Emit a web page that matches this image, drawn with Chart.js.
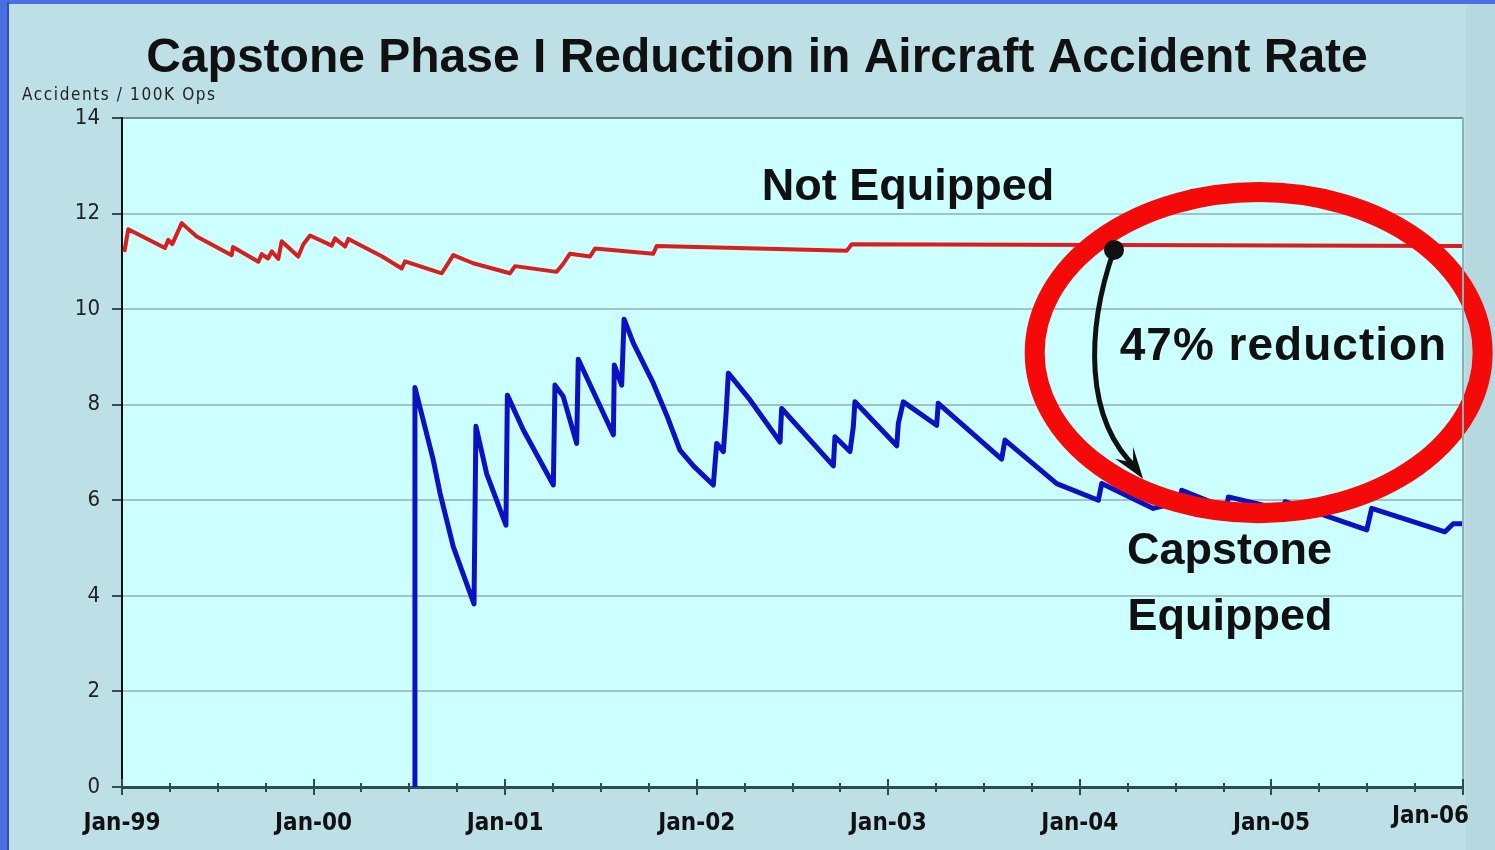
<!DOCTYPE html>
<html>
<head>
<meta charset="utf-8">
<script src="https://cdn.jsdelivr.net/npm/chart.js@4/dist/chart.umd.min.js"></script>
<style>
  html, body { margin: 0; padding: 0; background: #4b6fe0; overflow: hidden; }
  #wrap { position: absolute; left: 0; top: 0; width: 1495px; height: 850px; }
</style>
</head>
<body>
<div id="wrap"><canvas id="c" width="1495" height="850"></canvas></div>
<script>
// ---- Data (x = months since Jan-99, y = accidents per 100K ops) ----
const xTickLabels = ['Jan-99', 'Jan-00', 'Jan-01', 'Jan-02', 'Jan-03', 'Jan-04', 'Jan-05', 'Jan-06'];
const yTickValues = [0, 2, 4, 6, 8, 10, 12, 14];

const notEquippedX = [0.15, 0.39, 2.69, 2.9, 3.15, 3.74, 4.68, 6.87, 6.95, 8.54, 8.75, 9.15, 9.38, 9.79, 10.0, 11.04, 11.36, 11.78, 13.14, 13.34, 13.97, 14.18, 16.3, 17.52, 17.73, 20.03, 20.75, 22.0, 24.3, 24.62, 27.23, 27.64, 28.06, 29.32, 29.63, 33.28, 33.49, 45.39, 45.71, 84];
const notEquippedY = [11.2, 11.67, 11.28, 11.45, 11.36, 11.8, 11.52, 11.13, 11.3, 10.99, 11.15, 11.06, 11.21, 11.05, 11.42, 11.1, 11.36, 11.54, 11.33, 11.48, 11.31, 11.47, 11.1, 10.85, 11.0, 10.75, 11.13, 10.96, 10.75, 10.9, 10.78, 10.95, 11.16, 11.1, 11.27, 11.16, 11.32, 11.22, 11.36, 11.32];

const capstoneX = [18.35, 18.35, 19.5, 19.92, 20.75, 22.05, 22.17, 22.84, 24.05, 24.14, 25.14, 27.02, 27.12, 27.64, 28.48, 28.58, 30.78, 30.84, 31.3, 31.45, 32.03, 33.28, 34.12, 34.95, 35.79, 37.04, 37.25, 37.67, 37.84, 37.98, 39.34, 41.22, 41.32, 44.56, 44.66, 45.6, 45.81, 45.91, 48.53, 48.63, 48.94, 51.03, 51.13, 55.1, 55.31, 58.55, 61.16, 61.37, 64.6, 66.27, 66.38, 69.2, 69.3, 72.74, 72.85, 77.97, 78.28, 82.87, 83.39, 84];
const capstoneY = [0, 8.36, 6.84, 6.15, 5.03, 3.83, 7.55, 6.56, 5.48, 8.2, 7.47, 6.32, 8.41, 8.17, 7.19, 8.95, 7.37, 8.83, 8.41, 9.79, 9.29, 8.45, 7.78, 7.05, 6.72, 6.32, 7.19, 7.02, 7.82, 8.66, 8.10, 7.22, 7.92, 6.72, 7.33, 7.02, 7.54, 8.06, 7.14, 7.61, 8.06, 7.57, 8.03, 6.86, 7.26, 6.35, 6.0, 6.35, 5.83, 5.97, 6.21, 5.83, 6.07, 5.80, 5.97, 5.38, 5.83, 5.34, 5.51, 5.51];

const titleText = 'Capstone Phase I Reduction in Aircraft Accident Rate';
const yAxisTitle = 'Accidents / 100K Ops';

// ---- Styles ----
const FRAME_BLUE = '#4b6fe0';
const OUTER_BG = '#bde0e6';
const PLOT_BG = '#ccffff';
const RED = '#d91e1e';
const BLUE = '#0c12c2';
const AXIS_DARK = '#2c4c56';
const CONDENSED = "'DejaVu Sans Condensed', 'Liberation Sans Narrow', sans-serif";
const SANS = "'Liberation Sans', Arial, sans-serif";

const toPts = (xs, ys) => xs.map((x, i) => ({ x, y: ys[i] }));

const framePlugin = {
  id: 'frame',
  beforeDraw(chart) {
    const { ctx, width, height, chartArea: a } = chart;
    ctx.save();
    ctx.fillStyle = FRAME_BLUE;
    ctx.fillRect(0, 0, width, height);
    ctx.fillStyle = '#2f50b8';
    ctx.fillRect(7, 2, 2, height);
    ctx.fillStyle = OUTER_BG;
    ctx.fillRect(9, 4, width - 9, height - 4);
    ctx.fillStyle = '#b6d9e0';
    ctx.fillRect(a.right + 3, 4, width - a.right - 3, height - 4);
    ctx.fillStyle = PLOT_BG;
    ctx.fillRect(a.left, a.top, a.right - a.left, a.bottom - a.top);
    ctx.restore();
  },
  afterDraw(chart) {
    const { ctx, chartArea: a, scales } = chart;
    const xs = scales.x;
    ctx.save();
    // right border of plot
    ctx.strokeStyle = '#8fb0b6';
    ctx.lineWidth = 2;
    ctx.beginPath();
    ctx.moveTo(a.right, a.top);
    ctx.lineTo(a.right, a.bottom);
    ctx.stroke();
    // crossing x ticks: quarterly minor, yearly major
    ctx.strokeStyle = AXIS_DARK;
    ctx.lineWidth = 2;
    for (let v = 0; v <= 84; v += 3) {
      const px = Math.round(xs.getPixelForValue(v));
      const major = v % 12 === 0;
      ctx.beginPath();
      ctx.moveTo(px, a.bottom - (major ? 8 : 4));
      ctx.lineTo(px, a.bottom + (major ? 8 : 5));
      ctx.stroke();
    }
    // last x label (pulled inside the frame)
    ctx.fillStyle = '#111';
    ctx.font = 'bold 24px ' + CONDENSED;
    ctx.textAlign = 'right';
    ctx.textBaseline = 'middle';
    ctx.fillText(xTickLabels[xTickLabels.length - 1], xs.getPixelForValue(84) + 6, a.bottom + 30);
    // title
    ctx.fillStyle = '#111';
    ctx.font = 'bold 48px ' + SANS;
    ctx.textAlign = 'center';
    ctx.textBaseline = 'alphabetic';
    ctx.fillText(titleText, 757, 72);
    // y axis title
    ctx.font = '17px ' + CONDENSED;
    ctx.textAlign = 'left';
    ctx.fillStyle = '#222';
    if ('letterSpacing' in ctx) ctx.letterSpacing = '1.6px';
    ctx.fillText(yAxisTitle, 22, 100);
    ctx.restore();
  }
};

// annotation positions in data units
const annot = {
  notEquipped: { x: 49.24, y: 12.55 },
  reduction: { x: 62.5, y: 9.2 },
  capstone1: { x: 62.95, y: 4.92 },
  capstone2: { x: 62.98, y: 3.54 },
  ellipse: { cx: 71.2, cy: 9.09, rx: 14.03, ry: 3.36 },
  dot: { x: 62.14, y: 11.24 },
  arrowTip: { x: 63.96, y: 6.45 }
};

const annotPlugin = {
  id: 'annot',
  afterDatasetsDraw(chart) {
    const { ctx, scales } = chart;
    const X = v => scales.x.getPixelForValue(v);
    const Y = v => scales.y.getPixelForValue(v);
    ctx.save();
    // red ellipse
    const e = annot.ellipse;
    const cx = X(e.cx), cy = Y(e.cy);
    const rx = X(e.cx + e.rx) - cx, ry = cy - Y(e.cy + e.ry);
    ctx.strokeStyle = '#f50a0a';
    ctx.lineWidth = 20;
    ctx.beginPath();
    ctx.ellipse(cx, cy, rx, ry, 0, 0, Math.PI * 2);
    ctx.stroke();
    // arrow
    const x0 = X(annot.dot.x), y0 = Y(annot.dot.y);
    const x1 = X(annot.arrowTip.x), y1 = Y(annot.arrowTip.y);
    ctx.strokeStyle = '#111';
    ctx.fillStyle = '#111';
    ctx.lineWidth = 5;
    ctx.lineCap = 'round';
    ctx.beginPath();
    ctx.moveTo(x0, y0);
    ctx.bezierCurveTo(x0 - 28, y0 + 80, x0 - 30, y0 + 170, x1 - 6, y1 - 10);
    ctx.stroke();
    ctx.beginPath();
    ctx.moveTo(x1, y1);
    ctx.lineTo(x1 - 28, y1 - 20);
    ctx.lineTo(x1 - 10, y1 - 16);
    ctx.lineTo(x1 - 10, y1 - 32);
    ctx.closePath();
    ctx.fill();
    ctx.beginPath();
    ctx.arc(x0, y0, 10, 0, Math.PI * 2);
    ctx.fill();
    // texts
    ctx.fillStyle = '#111';
    ctx.textBaseline = 'middle';
    ctx.font = 'bold 45px ' + SANS;
    ctx.textAlign = 'center';
    ctx.fillText('Not Equipped', X(annot.notEquipped.x), Y(annot.notEquipped.y));
    ctx.textAlign = 'left';
    ctx.fillText('Capstone', X(annot.capstone1.x), Y(annot.capstone1.y));
    ctx.fillText('Equipped', X(annot.capstone2.x), Y(annot.capstone2.y));
    ctx.font = 'bold 46px ' + SANS;
    if ('letterSpacing' in ctx) ctx.letterSpacing = '1px';
    ctx.fillText('47% reduction', X(annot.reduction.x), Y(annot.reduction.y));
    ctx.restore();
  }
};

new Chart(document.getElementById('c'), {
  type: 'line',
  data: {
    datasets: [
      {
        label: 'Not Equipped',
        data: toPts(notEquippedX, notEquippedY),
        borderColor: RED,
        borderWidth: 4,
        pointRadius: 0,
        tension: 0,
        borderJoinStyle: 'round'
      },
      {
        label: 'Capstone Equipped',
        data: toPts(capstoneX, capstoneY),
        borderColor: BLUE,
        borderWidth: 5,
        pointRadius: 0,
        tension: 0,
        borderJoinStyle: 'round'
      }
    ]
  },
  options: {
    responsive: false,
    animation: false,
    events: [],
    layout: { padding: { left: 0, right: 32, top: 118, bottom: 13 } },
    plugins: {
      legend: { display: false },
      title: { display: false },
      tooltip: { enabled: false }
    },
    scales: {
      x: {
        type: 'linear',
        min: 0,
        max: 84,
        afterBuildTicks: s => { s.ticks = xTickLabels.map((_, i) => ({ value: i * 12 })); },
        afterFit: s => { s.height = 50; s.paddingLeft = 0; s.paddingRight = 0; },
        ticks: {
          autoSkip: false,
          maxRotation: 0,
          padding: 22,
          color: '#111',
          font: { family: CONDENSED, size: 24, weight: 'bold' },
          callback: (v) => (v < 84 ? xTickLabels[v / 12] : '')
        },
        grid: { display: false, drawTicks: false },
        border: { display: true, color: AXIS_DARK, width: 3 }
      },
      y: {
        min: 0,
        max: 14,
        afterBuildTicks: s => { s.ticks = yTickValues.map(v => ({ value: v })); },
        afterFit: s => { s.width = 122; s.paddingTop = 0; s.paddingBottom = 0; },
        ticks: {
          padding: 12,
          color: '#222',
          font: { family: CONDENSED, size: 22 },
          callback: v => String(v)
        },
        grid: {
          color: c => (c.tick && c.tick.value === 14 ? '#6f8f95' : '#a2c2c4'),
          lineWidth: 2,
          tickLength: 10,
          tickColor: '#3a4a50',
          tickWidth: 2
        },
        border: { display: true, color: '#111', width: 2 }
      }
    }
  },
  plugins: [framePlugin, annotPlugin]
});
</script>
</body>
</html>
